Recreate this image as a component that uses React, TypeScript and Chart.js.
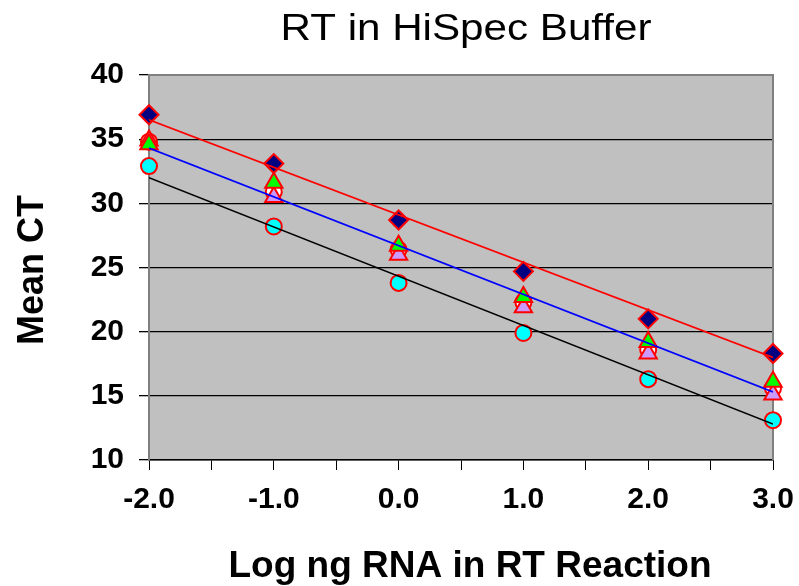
import React, { useEffect, useRef } from "react";
import { Chart, registerables } from "chart.js";

Chart.register(...registerables);

const titleText = "RT in HiSpec Buffer";
const xTitle = "Log ng RNA in RT Reaction";
const yTitle = "Mean CT";

const xValues = [-2, -1, 0, 1, 2, 3];
const diamondSeries = [36.9, 33.1, 28.7, 24.7, 21.0, 18.3];
const greenSeries = [34.6, 31.6, 26.7, 22.7, 19.2, 16.1];
const pinkSeries = [34.9, 30.5, 26.0, 21.9, 18.3, 15.1];
const redCircleSeries = [34.8, 30.9, 26.4, 22.3, 18.6, 15.6];
const cyanSeries = [32.9, 28.2, 23.8, 19.9, 16.3, 13.1];

const fitX = [-2, 3];
const redFit = [36.5, 18.0];
const blueFit = [34.3, 15.3];
const blackFit = [32.0, 12.8];

const FONT = "'Liberation Sans', Arial, sans-serif";

const pts = (xs: number[], ys: number[]) => xs.map((x, i) => ({ x, y: ys[i] }));

const decorPlugin = {
  id: "decor",
  beforeDraw(chart: any) {
    const { ctx, chartArea } = chart;
    ctx.save();
    ctx.fillStyle = "#C0C0C0";
    ctx.fillRect(chartArea.left, chartArea.top, chartArea.right - chartArea.left, chartArea.bottom - chartArea.top);
    ctx.restore();
  },
  beforeDatasetsDraw(chart: any) {
    const { ctx, chartArea } = chart;
    ctx.save();
    ctx.strokeStyle = "#808080";
    ctx.lineWidth = 2;
    ctx.beginPath();
    ctx.moveTo(chartArea.left, chartArea.top);
    ctx.lineTo(chartArea.right, chartArea.top);
    ctx.lineTo(chartArea.right, chartArea.bottom);
    ctx.stroke();
    ctx.restore();
  },
  afterDraw(chart: any) {
    const { ctx } = chart;
    ctx.save();
    ctx.fillStyle = "#000";
    ctx.font = `normal 37px ${FONT}`;
    ctx.textBaseline = "alphabetic";
    ctx.textAlign = "center";
    const w = ctx.measureText(titleText).width;
    const sx = 371 / w;
    ctx.save();
    ctx.translate(466, 40);
    ctx.scale(sx, 1);
    ctx.fillText(titleText, 0, 0);
    ctx.restore();
    ctx.font = `bold 37px ${FONT}`;
    ctx.fillText(xTitle, 470, 577);
    ctx.save();
    ctx.translate(43, 270);
    ctx.rotate(-Math.PI / 2);
    ctx.font = `bold 36px ${FONT}`;
    ctx.fillText(yTitle, 0, 0);
    ctx.restore();
    ctx.restore();
  },
};

export default function App() {
  const ref = useRef<HTMLCanvasElement>(null);
  useEffect(() => {
    if (!ref.current) return;
    const chart = new Chart(ref.current, {
      type: "scatter",
      data: {
        datasets: [
          { label: "redFit", data: pts(fitX, redFit), showLine: true, borderColor: "#FF0000", borderWidth: 1.7, pointRadius: 0, order: 1 },
          { label: "blueFit", data: pts(fitX, blueFit), showLine: true, borderColor: "#0000FF", borderWidth: 1.7, pointRadius: 0, order: 1 },
          { label: "blackFit", data: pts(fitX, blackFit), showLine: true, borderColor: "#000000", borderWidth: 1.7, pointRadius: 0, order: 1 },
          { label: "diamond", data: pts(xValues, diamondSeries), clip: false, pointStyle: "rectRot", pointRadius: 9.5, backgroundColor: "#000080", borderColor: "#FF0000", borderWidth: 2, order: 2 },
          { label: "green", data: pts(xValues, greenSeries), clip: false, pointStyle: "triangle", pointRadius: 10, backgroundColor: "#00FF00", borderColor: "#FF0000", borderWidth: 2, order: 3 },
          { label: "pink", data: pts(xValues, pinkSeries), clip: false, pointStyle: "triangle", pointRadius: 10, backgroundColor: "#CC99FF", borderColor: "#FF0000", borderWidth: 2, order: 4 },
          { label: "redCircle", data: pts(xValues, redCircleSeries), clip: false, pointStyle: "circle", pointRadius: 8, backgroundColor: "#FFFFFF", borderColor: "#FF0000", borderWidth: 2, order: 5 },
          { label: "cyan", data: pts(xValues, cyanSeries), clip: false, pointStyle: "circle", pointRadius: 8, backgroundColor: "#00FFFF", borderColor: "#FF0000", borderWidth: 2, order: 6 },
        ],
      },
      options: {
        animation: false,
        responsive: false,
        layout: { padding: { left: 0, top: 75, right: 26, bottom: 0 } },
        plugins: { legend: { display: false }, title: { display: false }, tooltip: { enabled: false } },
        scales: {
          x: {
            type: "linear",
            min: -2,
            max: 3,
            afterFit: (s: any) => { s.height = 126; s.paddingRight = 0; s.paddingLeft = 0; },
            ticks: {
              stepSize: 0.5,
              autoSkip: false,
              maxRotation: 0,
              padding: 12,
              color: "#000",
              font: { family: FONT, size: 30, weight: "bold" },
              callback: (v: any) => (Number.isInteger(Number(v)) ? Number(v).toFixed(1) : ""),
            },
            grid: { drawOnChartArea: false, tickLength: 10, color: "#000", lineWidth: 1 },
            border: { color: "#000", width: 1.5 },
          },
          y: {
            type: "linear",
            min: 10,
            max: 40,
            afterFit: (s: any) => { s.width = 149; s.paddingTop = 0; s.paddingBottom = 0; },
            ticks: {
              stepSize: 5,
              padding: 15,
              color: "#000",
              font: { family: FONT, size: 30, weight: "bold" },
            },
            grid: {
              color: (c: any) => (c.tick && c.tick.value === 40 ? "#808080" : "#000"),
              tickColor: "#000",
              tickLength: 10,
              lineWidth: 1.3,
            },
            border: { color: "#808080", width: 2 },
          },
        },
      },
      plugins: [decorPlugin],
    });
    return () => chart.destroy();
  }, []);
  return (
    <div style={{ position: "fixed", left: 0, top: 0, width: 799, height: 586, background: "#fff" }}>
      <canvas ref={ref} width={799} height={586} style={{ width: 799, height: 586 }} />
    </div>
  );
}
